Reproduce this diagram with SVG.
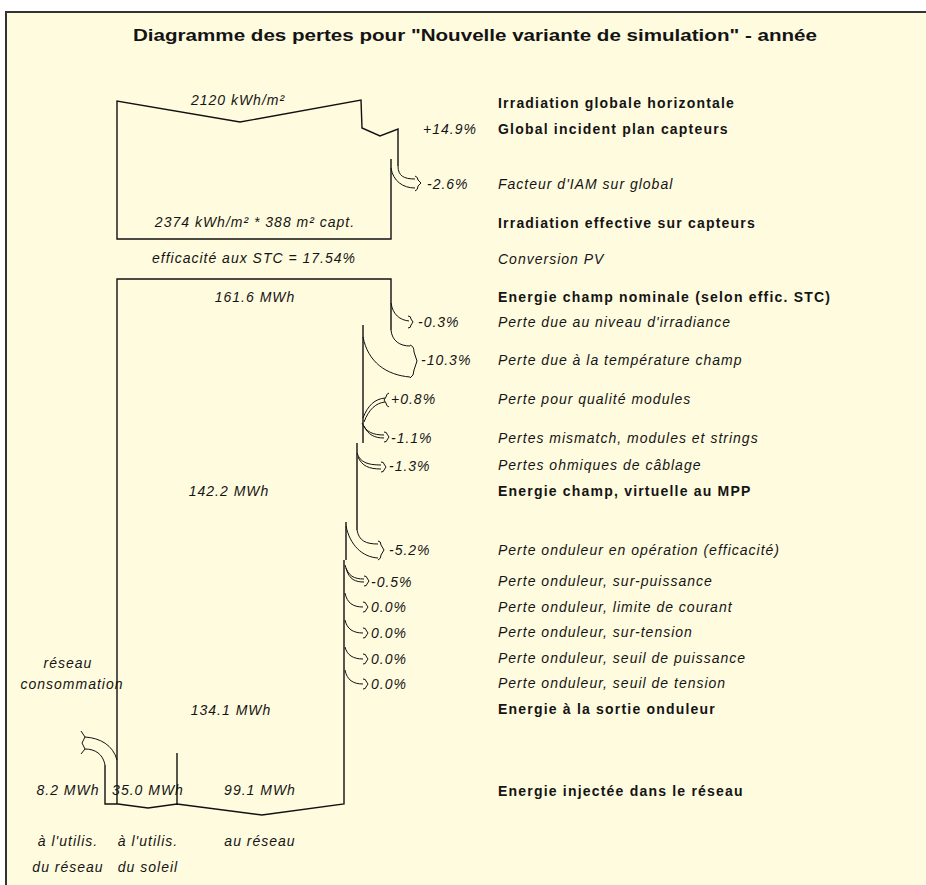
<svg xmlns="http://www.w3.org/2000/svg" width="926" height="885" viewBox="0 0 926 885">
  <style>
    text { font-family: "Liberation Sans", Arial, sans-serif; fill: #141414; }
    .title { font-size: 16px; font-weight: bold; }
    .b { font-size: 14px; font-weight: bold; letter-spacing: 1.2px; }
    .i { font-size: 14px; font-style: italic; letter-spacing: 1px; }
    .m { text-anchor: middle; }
    .flow { fill: none; stroke: #111; stroke-width: 1.4; stroke-linejoin: miter; }
    .arr { fill: none; stroke: #111; stroke-width: 1; }
  </style>

  <!-- page background and frame -->
  <rect x="0" y="0" width="926" height="885" fill="#ffffff"/>
  <rect x="6" y="12" width="920" height="873" fill="#fffbdf"/>
  <path d="M6,885 L6,12 L926,12" fill="none" stroke="#333" stroke-width="2"/>

  <text class="title m" x="475" y="41" textLength="684" lengthAdjust="spacingAndGlyphs">Diagramme des pertes pour "Nouvelle variante de simulation"  -  année</text>

  <!-- flow outlines and loss / gain arrows -->
  <g id="connectors">
    <!-- irradiation block -->
    <path class="flow" d="M391,159 L391,239 L117,239 L117,101 L240,122 L361,100 L362,128 L380,136 L398,129 L398,166"/>
    <path class="arr" d="M398,166 C398,176 404,179 415,179"/>
    <path class="arr" d="M391,168 C393,181 403,188 415,188"/>
    <path class="arr" d="M415,176 Q418,177 418,180 L421,183 L418,186 Q418,190 415,191"/>

    <!-- energy block -->
    <path class="flow" d="M117,804 L117,279 L391,279 L391,330"/>
    <!-- -0.3% -->
    <path class="arr" d="M391,303 C393,315 400,320 409,321"/>
    <path class="arr" d="M408,316 Q411,316 411,319 L413,322 L411,325 Q411,328 408,328"/>
    <!-- -10.3% -->
    <path class="arr" d="M391,330 C392,341 400,346 410,346"/>
    <path class="arr" d="M363,337 C368,362 386,375 410,377"/>
    <path class="arr" d="M410,345 Q414,346 414,352 L417,361 L414,370 Q414,376 410,378"/>
    <path class="flow" d="M363,325 L363,443"/>
    <!-- +0.8% -->
    <path class="arr" d="M363,418 C368,405 375,399 385,398"/>
    <path class="arr" d="M364,422 C369,409 376,403 385,402"/>
    <path class="arr" d="M389,393 Q386,394 386,397 L384,400 L386,403 Q386,406 389,407"/>
    <!-- -1.1% -->
    <path class="arr" d="M362,423 C366,432 373,435 384,435"/>
    <path class="arr" d="M364,426 C368,435 375,438 384,438"/>
    <path class="arr" d="M384,432 Q387,432 387,434 L389,437 L387,440 Q387,442 384,442"/>
    <path class="flow" d="M357,443 L357,530"/>
    <!-- -1.3% -->
    <path class="arr" d="M357,453 C360,462 367,465 381,465"/>
    <path class="arr" d="M358,457 C362,466 369,469 381,469"/>
    <path class="arr" d="M381,462 Q384,462 384,464 L386,467 L384,470 Q384,472 381,472"/>
    <!-- -5.2% -->
    <path class="arr" d="M357,530 C359,541 366,544 378,544"/>
    <path class="arr" d="M346,526 C350,545 362,557 378,558"/>
    <path class="arr" d="M378,541 Q381,541 381,545 L384,550 L381,555 Q381,559 378,560"/>
    <path class="flow" d="M346,522 L346,560"/>
    <!-- -0.5% -->
    <path class="arr" d="M345,565 C348,576 354,579 364,579"/>
    <path class="arr" d="M346,568 C349,580 356,582 364,582"/>
    <path class="arr" d="M364,576 Q367,576 367,578 L369,581 L367,584 Q367,586 364,586"/>
    <!-- 0.0% x4 -->
    <path class="arr" d="M345,593 C347,603 353,607 363,607"/>
    <path class="arr" d="M363,602 Q366,602 366,604 L368,607 L366,610 Q366,612 363,612"/>
    <path class="arr" d="M345,620 C347,629 353,633 363,633"/>
    <path class="arr" d="M363,628 Q366,628 366,630 L368,633 L366,636 Q366,638 363,638"/>
    <path class="arr" d="M345,647 C347,655 353,659 363,659"/>
    <path class="arr" d="M363,654 Q366,654 366,656 L368,659 L366,662 Q366,664 363,664"/>
    <path class="arr" d="M345,670 C347,680 353,684 363,684"/>
    <path class="arr" d="M363,679 Q366,679 366,681 L368,684 L366,687 Q366,689 363,689"/>

    <!-- output split -->
    <path class="flow" d="M344,560 L344,804 L262,815 L177,804 L148,808 L118,804 L105,804 L105,765"/>
    <path class="flow" d="M177,753 L177,804"/>
    <path class="arr" d="M117,760 C113,745 100,738 85,737"/>
    <path class="arr" d="M105,765 C103,754 95,749 85,749"/>
    <path class="arr" d="M81,731 L85,737 L82,743 L85,749 L81,754"/>
  </g>

  <!-- values inside the flow -->
  <g id="flow-values">
    <text class="i m" x="238" y="105">2120 kWh/m²</text>
    <text class="i m" x="255" y="227">2374 kWh/m² * 388 m² capt.</text>
    <text class="i m" x="254" y="263">efficacité aux STC = 17.54%</text>
    <text class="i m" x="255" y="302">161.6 MWh</text>
    <text class="i m" x="229" y="496">142.2 MWh</text>
    <text class="i m" x="231" y="715">134.1 MWh</text>
    <text class="i m" x="68" y="668">réseau</text>
    <text class="i m" x="72" y="689">consommation</text>
    <text class="i m" x="68" y="795">8.2 MWh</text>
    <text class="i m" x="148" y="795">35.0 MWh</text>
    <text class="i m" x="260" y="795">99.1 MWh</text>
    <text class="i m" x="68" y="846">à l'utilis.</text>
    <text class="i m" x="68" y="872">du réseau</text>
    <text class="i m" x="148" y="846">à l'utilis.</text>
    <text class="i m" x="148" y="872">du soleil</text>
    <text class="i m" x="260" y="846">au réseau</text>
  </g>

  <!-- percentages -->
  <g id="percentages">
    <text class="i" x="423" y="134">+14.9%</text>
    <text class="i" x="427" y="189">-2.6%</text>
    <text class="i" x="418" y="327">-0.3%</text>
    <text class="i" x="421" y="365">-10.3%</text>
    <text class="i" x="391" y="404">+0.8%</text>
    <text class="i" x="391" y="443">-1.1%</text>
    <text class="i" x="389" y="471">-1.3%</text>
    <text class="i" x="389" y="555">-5.2%</text>
    <text class="i" x="371" y="587">-0.5%</text>
    <text class="i" x="371" y="612">0.0%</text>
    <text class="i" x="371" y="638">0.0%</text>
    <text class="i" x="371" y="664">0.0%</text>
    <text class="i" x="371" y="689">0.0%</text>
  </g>

  <!-- step descriptions -->
  <g id="labels">
    <text class="b" x="498" y="108">Irradiation globale horizontale</text>
    <text class="b" x="498" y="134">Global incident plan capteurs</text>
    <text class="i" x="498" y="189">Facteur d'IAM  sur global</text>
    <text class="b" x="498" y="228">Irradiation effective sur capteurs</text>
    <text class="i" x="498" y="264">Conversion PV</text>
    <text class="b" x="498" y="302">Energie champ nominale (selon effic. STC)</text>
    <text class="i" x="498" y="327">Perte due au niveau d'irradiance</text>
    <text class="i" x="498" y="365">Perte due à la température champ</text>
    <text class="i" x="498" y="404">Perte pour qualité modules</text>
    <text class="i" x="498" y="443">Pertes mismatch, modules et strings</text>
    <text class="i" x="498" y="470">Pertes ohmiques de câblage</text>
    <text class="b" x="498" y="496">Energie champ, virtuelle au MPP</text>
    <text class="i" x="498" y="555">Perte onduleur en opération (efficacité)</text>
    <text class="i" x="498" y="586">Perte onduleur, sur-puissance</text>
    <text class="i" x="498" y="612">Perte onduleur, limite de courant</text>
    <text class="i" x="498" y="637">Perte onduleur, sur-tension</text>
    <text class="i" x="498" y="663">Perte onduleur, seuil de puissance</text>
    <text class="i" x="498" y="688">Perte onduleur, seuil de tension</text>
    <text class="b" x="498" y="714">Energie à la sortie onduleur</text>
    <text class="b" x="498" y="796">Energie injectée dans le réseau</text>
  </g>
</svg>
